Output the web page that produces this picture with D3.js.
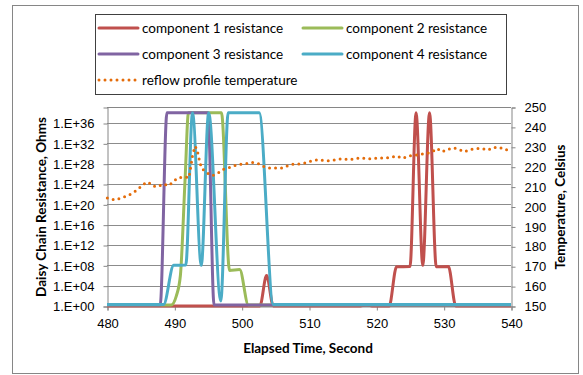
<!DOCTYPE html>
<html>
<head>
<meta charset="utf-8">
<script src="https://cdn.jsdelivr.net/npm/d3@7"></script>
<style>
  body { margin: 0; background: #fff; }
  svg { font-family: Lato, "Open Sans", sans-serif; }
</style>
</head>
<body>
<div id="chart"></div>
<script>
// series data: [time (s), resistance (ohm)]
var comp1 = [[480,1],[502.7,1],[503.7,1e6],[504.7,1],[517.4,1],[518.5,1.6],[519.6,1],[521.9,1],
  [523,5e7],[525,6e7],[525.9,1e38],[526.9,1e8],[527.9,1e38],[528.9,5e7],[530.7,6e7],[531.8,1],[540,1]];
var comp2 = [[480,1.5],[489.5,1.5],[490.3,1e2],[490.9,1e6],[491.6,1e25],[492.1,1e38],[497,1e38],
  [498.2,1e7],[499.7,1.5e7],[501,1.5],[540,1.5]];
var comp3 = [[480,1.5],[487.9,1.5],[488.9,1e38],[495,1e38],[495.9,1.5],[540,1.5]];
var comp4 = [[480,2],[488.4,2],[489.9,1e8],[491.7,1.2e8],[492.7,1e38],[494,1e8],[495.1,1e38],
  [496.9,10],[498,1e38],[502.6,1e38],[504.7,2],[540,2]];

var tempTime = [480.05,481.2,482.1,483,483.8,484.6,485.3,486.1,486.8,487.6,488.3,489.2,489.9,490.6,491.4,492.2,
  492.3,492.5,492.6,492.8,493.1,493.4,493.6,493.8,494.1,494.8,495.6,496.4,497.1,498,498.8,499.7,500.6,501.5,
  502.4,503.2,504.1,505,506,506.8,507.8,508.7,509.6,510.5,511.4,512.3,513.2,514,515,516,516.8,517.7,518.6,
  519.5,520.4,521.2,522.1,523,523.9,524.8,525.6,526.5,527.5,528.3,529,529.8,530.6,531.4,532.3,533.1,534,
  534.9,535.7,536.6,537.4,538.3,539.1,540];
var tempVal = [204.3,203.3,204.3,205.3,206.8,208.6,211,212.3,210.3,210,211.3,210.5,212.7,214.5,214.8,214.5,
  217.7,220.5,223.9,227,230.3,228.2,225.2,222,219,217,215.5,216.5,218.5,219.3,220.4,221.2,221.4,222.2,
  221.7,220.2,219.3,219.3,219.3,220.4,221.4,221.4,222,223,223.5,223,223,223.5,224,223.5,224,224.5,224,
  224,224.5,224.2,224.7,225.4,224.2,225.4,225.7,226.2,226.7,227.4,229.2,227.5,228.7,229.5,228.7,227.5,228.7,
  229.2,229.2,228.4,229.7,229.7,228.4,228.7];

var xTicks = [480,490,500,510,520,530,540];
var resTicks = [1e0,1e4,1e8,1e12,1e16,1e20,1e24,1e28,1e32,1e36];
var tempTicks = [150,160,170,180,190,200,210,220,230,240,250];

var seriesNames = ["component 1 resistance","component 2 resistance","component 3 resistance",
  "component 4 resistance","reflow profile temperature"];
var seriesColors = ["#C0504D","#9BBB59","#8064A2","#4BACC6","#E46C0A"];

var W = 583, H = 375;
var plotL = 107, plotT = 107, pw = 404, ph = 199;

var svg = d3.select("#chart").append("svg")
    .attr("width", W)
    .attr("height", H);

// chart frame
svg.append("rect")
    .attr("x", 12.5).attr("y", 5.5)
    .attr("width", 566).attr("height", 368)
    .style("fill", "none")
    .style("stroke", "#868686");

var x = d3.scaleLinear().domain([480, 540]).range([plotL, plotL + pw]);
var y = d3.scaleLog().domain([1, Math.pow(10, 39.15)]).range([plotT + ph, plotT]);
var yT = d3.scaleLinear().domain([150, 250]).range([plotT + ph, plotT]);

var g = svg.append("g");

// gridlines
g.selectAll(".grid")
    .data(resTicks)
    .enter()
    .append("line")
    .attr("x1", plotL).attr("x2", plotL + pw)
    .attr("y1", function (d) { return Math.round(y(d)) + 0.5; })
    .attr("y2", function (d) { return Math.round(y(d)) + 0.5; })
    .style("stroke", "#8c8c8c");

// plot border top
g.append("line")
    .attr("x1", plotL).attr("x2", plotL + pw)
    .attr("y1", plotT + 0.5).attr("y2", plotT + 0.5)
    .style("stroke", "#868686");

function expFmt(d) {
    var e = Math.round(Math.log10(d));
    return "1.E+" + (e < 10 ? "0" + e : e);
}

var yAxis = g.append("g")
    .attr("transform", "translate(" + (plotL + 0.5) + ",0.5)")
    .call(d3.axisLeft(y).tickValues(resTicks).tickFormat(expFmt).tickSizeOuter(0).tickSize(4).tickPadding(9));

var y2Axis = g.append("g")
    .attr("transform", "translate(" + (plotL + pw + 0.5) + ",0.5)")
    .call(d3.axisRight(yT).tickValues(tempTicks).tickSizeOuter(0).tickSize(4).tickPadding(9));

var xAxis = g.append("g")
    .attr("transform", "translate(0.5," + (plotT + ph + 0.5) + ")")
    .call(d3.axisBottom(x).tickValues(xTicks).tickSizeOuter(0).tickSize(4).tickPadding(8));

[yAxis, y2Axis, xAxis].forEach(function (a) {
    a.selectAll("path, line").style("stroke", "#868686");
    a.selectAll("text")
        .style("font-size", "13px")
        .style("fill", "#000");
    a.select(".domain").style("stroke", "#868686");
});

// resistance lines
var resLine = d3.line()
    .x(function (d) { return x(d[0]); })
    .y(function (d) { return y(Math.max(1, d[1])); })
    .curve(d3.curveMonotoneX);

var plot = g.append("g");
[comp1, comp2, comp3, comp4].forEach(function (s, i) {
    plot.append("path")
        .datum(s)
        .attr("d", resLine)
        .style("fill", "none")
        .style("stroke", seriesColors[i])
        .style("stroke-width", 3)
        .style("stroke-linejoin", "round");
});

// temperature (secondary axis)
var tempData = tempTime.map(function (t, i) { return [t, tempVal[i]]; });
var tempLine = d3.line()
    .x(function (d) { return x(d[0]); })
    .y(function (d) { return yT(d[1]); });

plot.append("path")
    .datum(tempData)
    .attr("d", tempLine)
    .style("fill", "none")
    .style("stroke", seriesColors[4])
    .style("stroke-width", 3)
    .style("stroke-dasharray", "0 6")
    .style("stroke-linecap", "round");

// axis titles
svg.append("text")
    .attr("transform", "translate(46,207) rotate(-90)")
    .attr("text-anchor", "middle")
    .style("font-size", "13.5px")
    .style("font-weight", "bold")
    .text("Daisy Chain Resistance, Ohms");

svg.append("text")
    .attr("transform", "translate(565,207) rotate(-90)")
    .attr("text-anchor", "middle")
    .style("font-size", "13.5px")
    .style("font-weight", "bold")
    .text("Temperature, Celsius");

svg.append("text")
    .attr("x", 308).attr("y", 353)
    .attr("text-anchor", "middle")
    .style("font-size", "13.5px")
    .style("font-weight", "bold")
    .text("Elapsed Time, Second");

// legend
var legend = svg.append("g");
legend.append("rect")
    .attr("x", 95.5).attr("y", 14.5)
    .attr("width", 411).attr("height", 80)
    .style("fill", "#fff")
    .style("stroke", "#404040");

var legPos = [[99, 28], [303, 28], [99, 54], [303, 54], [99, 80]];
seriesNames.forEach(function (name, i) {
    var p = legPos[i];
    legend.append("line")
        .attr("x1", p[0]).attr("x2", p[0] + 39)
        .attr("y1", p[1]).attr("y2", p[1])
        .style("stroke", seriesColors[i])
        .style("stroke-width", 3)
        .style("stroke-dasharray", i === 4 ? "0 6" : null)
        .style("stroke-linecap", "round");
    legend.append("text")
        .attr("x", p[0] + 43).attr("y", p[1] + 4.5)
        .style("font-size", "13.5px")
        .text(name);
});
</script>
</body>
</html>
